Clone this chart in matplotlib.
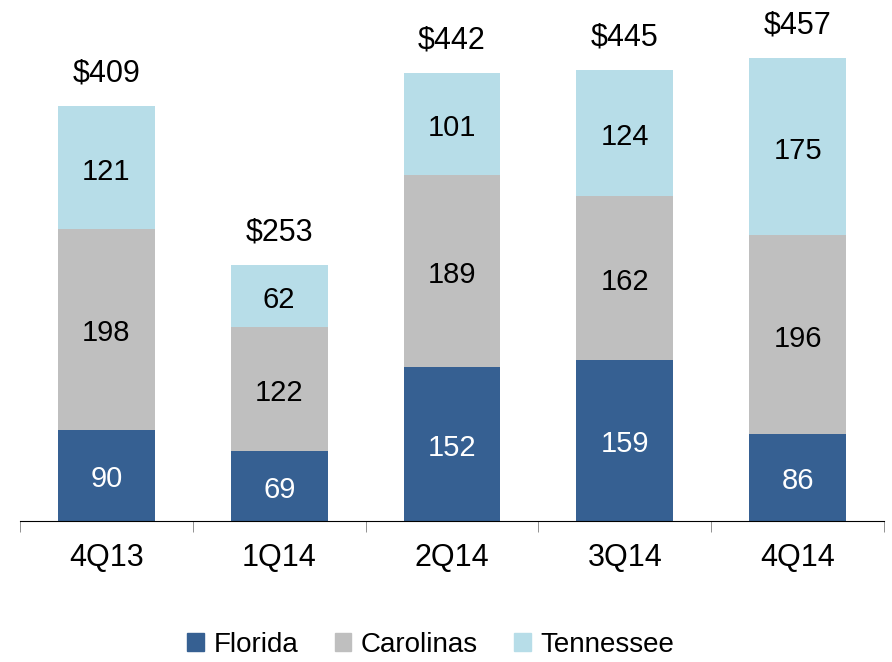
import numpy as np
import matplotlib.pyplot as plt
from matplotlib.patches import Patch

plt.rcParams['font.family'] = ['Liberation Sans', 'DejaVu Sans']

quarters = ['4Q13', '1Q14', '2Q14', '3Q14', '4Q14']
florida = [90, 69, 152, 159, 86]
carolinas = [198, 122, 189, 162, 196]
tennessee = [121, 62, 101, 124, 175]
totals = ['$409', '$253', '$442', '$445', '$457']

c_fl = '#366092'
c_ca = '#BFBFBF'
c_tn = '#B7DDE8'

fig = plt.figure(figsize=(8.92, 6.62), dpi=100)
ax = fig.add_axes([20/892, 141/662, 864/892, 521/662])

x = np.arange(len(quarters))
w = 0.56
fl = np.array(florida)
ca = np.array(carolinas)
tn = np.array(tennessee)

ax.bar(x, fl, w, color=c_fl)
ax.bar(x, ca, w, bottom=fl, color=c_ca)
ax.bar(x, tn, w, bottom=fl + ca, color=c_tn)

fs = 21
d = 4  # nudge labels down a little
for i in range(len(x)):
    ax.text(x[i], fl[i]/2 - d, str(fl[i]), ha='center', va='center', fontsize=fs, color='white')
    ax.text(x[i], fl[i] + ca[i]/2 - d, str(ca[i]), ha='center', va='center', fontsize=fs, color='black')
    ax.text(x[i], fl[i] + ca[i] + tn[i]/2 - d, str(tn[i]), ha='center', va='center', fontsize=fs, color='black')
    top = fl[i] + ca[i] + tn[i]
    ax.text(x[i], top + 32, totals[i], ha='center', va='center', fontsize=fs + 1, color='black')

ax.set_xlim(-0.5, len(x) - 0.5)
ax.set_ylim(0, 514)
for s in ['top', 'right', 'left']:
    ax.spines[s].set_visible(False)
ax.spines['bottom'].set_color('black')
ax.set_yticks([])
ax.set_xticks(x)
ax.set_xticklabels(quarters, fontsize=fs + 1)
ax.tick_params(axis='x', length=0, pad=16)
ax.set_xticks(np.arange(-0.5, len(x)), minor=True)
ax.tick_params(axis='x', which='minor', length=8, color='#808080', direction='out')

handles = [Patch(color=c_fl, label='Florida'),
           Patch(color=c_ca, label='Carolinas'),
           Patch(color=c_tn, label='Tennessee')]
fig.legend(handles=handles, loc='center', bbox_to_anchor=(431/892, 1 - 645/662), ncol=3,
           frameon=False, fontsize=20, handlelength=0.6, handleheight=0.6,
           handletextpad=0.35, columnspacing=1.3)

fig.savefig('out.png', dpi=100)
